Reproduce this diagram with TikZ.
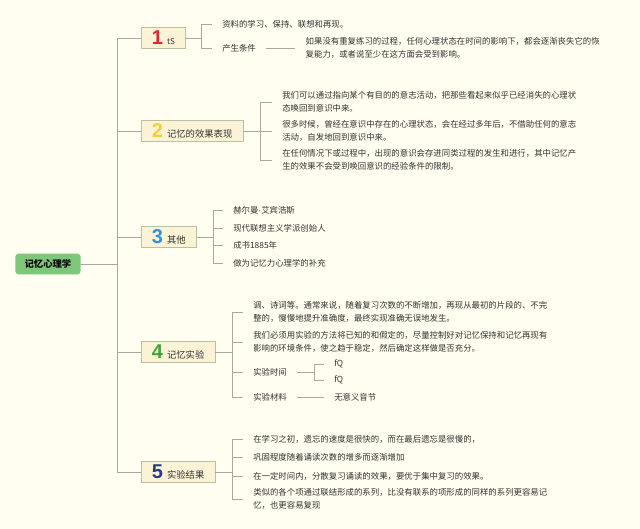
\documentclass[tikz,border=0pt]{standalone}
\usepackage{fontspec}
\usepackage{xcolor}
\setmainfont{Liberation Sans}
\newfontfamily\cjk{Noto Sans CJK SC}
\newfontfamily\numfont{Liberation Sans}
\usetikzlibrary{positioning}

\definecolor{bgcream}{HTML}{FFFEF0}
\definecolor{boxfill}{HTML}{FCF3D6}
\definecolor{boxline}{HTML}{B6C2A0}
\definecolor{linegray}{HTML}{A9A99B}
\definecolor{rootgreen}{HTML}{7DC67A}
\definecolor{txtgray}{HTML}{333333}
\definecolor{numred}{HTML}{E0262C}
\definecolor{numyellow}{HTML}{F3CF3E}
\definecolor{numblue}{HTML}{2E93DA}
\definecolor{numgreen}{HTML}{3CA936}
\definecolor{numnavy}{HTML}{2B3B8C}

\newcommand{\topicnum}[2]{\textcolor{#1}{\numfont\bfseries\fontsize{15}{15}\selectfont #2}\hspace{3pt}}

\begin{document}
\begin{tikzpicture}[
  x=0.75pt, y=-0.75pt,
  root/.style={fill=rootgreen, rounded corners=2.5pt, minimum width=49pt, minimum height=15.5pt, font=\cjk\fontsize{7}{8}\selectfont\bfseries},
  topic/.style={draw=boxline, fill=boxfill, anchor=west, minimum height=16pt, inner xsep=8pt, inner ysep=0pt, text=txtgray, font=\cjk\fontsize{7}{8}\selectfont},
  leaf/.style={anchor=west, align=left, inner xsep=7.5pt, inner ysep=1pt, text=txtgray, font=\cjk\fontsize{6.3}{10}\selectfont},
  link/.style={draw=linegray, line width=0.7pt}
]
\fill[bgcream] (0,0) rectangle (640,529);
\useasboundingbox (0,0) rectangle (640,529);

\node[root] (root) at (48,264) {记忆心理学};
\coordinate (trunk) at (117,264);

\node[topic] (b1) at (141,38) {\topicnum{numred}{1}{\fontsize{6}{7}\selectfont tS}};
\node[topic] (b2) at (141,131) {\topicnum{numyellow}{2}记忆的效果表现};
\node[topic] (b3) at (141,237) {\topicnum{numblue}{3}其他};
\node[topic] (b4) at (141,352) {\topicnum{numgreen}{4}记忆实验};
\node[topic] (b5) at (141,472) {\topicnum{numnavy}{5}实验结果};

\draw[link] (root) -- (trunk);
\draw[link] (trunk |- b1.west) -- (trunk |- b5.west);
\foreach \b in {b1,b2,b3,b4,b5}
  \draw[link] (trunk |- \b.west) -- (\b.west);

% 1
\node[leaf] (c11) at (212,24) {资料的学习、保持、联想和再现。};
\node[leaf] (c12) at (212,48) {产生条件};
\node[leaf, right=22pt of c12] (p12) {如果没有重复练习的过程，任何心理状态在时间的影响下，都会逐渐丧失它的恢\\复能力，或者说至少在这方面会受到影响。};
\coordinate (j1) at (201,38);
\draw[link] (b1.east) -- (j1);
\draw[link] (j1 |- c11.west) -- (j1 |- c12.west);
\foreach \c in {c11,c12}
  \draw[link] (j1 |- \c.west) -- (\c.west);
\draw[link] (c12) -- (p12);

% 2
\node[leaf] (c21) at (272,102) {我们可以通过指向某个有目的的意志活动，把那些看起来似乎已经消失的心理状\\态唤回到意识中来。};
\node[leaf] (c22) at (272,131) {很多时候，曾经在意识中存在的心理状态，会在经过多年后，不借助任何的意志\\活动，自发地回到意识中来。};
\node[leaf] (c23) at (272,160) {在任何情况下或过程中，出现的意识会存进同类过程的发生和进行，其中记忆产\\生的效果不会受到唤回意识的经验条件的限制。};
\coordinate (j2) at (260,131);
\draw[link] (b2.east) -- (j2);
\draw[link] (j2 |- c21.west) -- (j2 |- c23.west);
\foreach \c in {c21,c22,c23}
  \draw[link] (j2 |- \c.west) -- (\c.west);

% 3
\node[leaf] (c31) at (223,210) {赫尔曼{\rmfamily ·}艾宾浩斯};
\node[leaf] (c32) at (223,228) {现代联想主义学派创始人};
\node[leaf] (c33) at (223,245) {成书1885年};
\node[leaf] (c34) at (223,263) {做为记忆力心理学的补充};
\coordinate (j3) at (213,237);
\draw[link] (b3.east) -- (j3);
\draw[link] (j3 |- c31.west) -- (j3 |- c34.west);
\foreach \c in {c31,c32,c33,c34}
  \draw[link] (j3 |- \c.west) -- (\c.west);

% 4
\node[leaf] (c41) at (243,312) {调、诗词等。通常来说，随着复习次数的不断增加，再现从最初的片段的、不完\\整的，慢慢地提升准确度，最终实现准确无误地发生。};
\node[leaf] (c42) at (243,342) {我们必须用实验的方法将已知的和假定的，尽量控制好对记忆保持和记忆再现有\\影响的环境条件，使之趋于稳定，然后确定这样做是否充分。};
\node[leaf] (c43) at (243,372) {实验时间};
\node[leaf] (c44) at (243,397) {实验材料};
\coordinate (j4) at (232,352);
\draw[link] (b4.east) -- (j4);
\draw[link] (j4 |- c41.west) -- (j4 |- c44.west);
\foreach \c in {c41,c42,c43,c44}
  \draw[link] (j4 |- \c.west) -- (\c.west);

\node[leaf] (f1) at (324,364) {fQ};
\node[leaf] (f2) at (324,380) {fQ};
\node[leaf] (m1) at (324,397) {无意义音节};
\draw[link] (c43.east) -- ++(17,0) coordinate (j43);
\draw[link] (j43 |- f1.west) -- (j43 |- f2.west);
\foreach \c in {f1,f2}
  \draw[link] (j43 |- \c.west) -- (\c.west);
\draw[link] (c44) -- (m1);

% 5
\node[leaf] (c51) at (243,439) {在学习之初，遗忘的速度是很快的，而在最后遗忘是很慢的，};
\node[leaf] (c52) at (243,457) {巩固程度随着诵读次数的增多而逐渐增加};
\node[leaf] (c53) at (243,476) {在一定时间内，分散复习诵读的效果，要优于集中复习的效果。};
\node[leaf] (c54) at (243,499) {类似的各个项通过联结形成的系列，比没有联系的项形成的同样的系列更容易记\\忆，也更容易复现};
\coordinate (j5) at (232,472);
\draw[link] (b5.east) -- (j5);
\draw[link] (j5 |- c51.west) -- (j5 |- c54.west);
\foreach \c in {c51,c52,c53,c54}
  \draw[link] (j5 |- \c.west) -- (\c.west);
\end{tikzpicture}
\end{document}
